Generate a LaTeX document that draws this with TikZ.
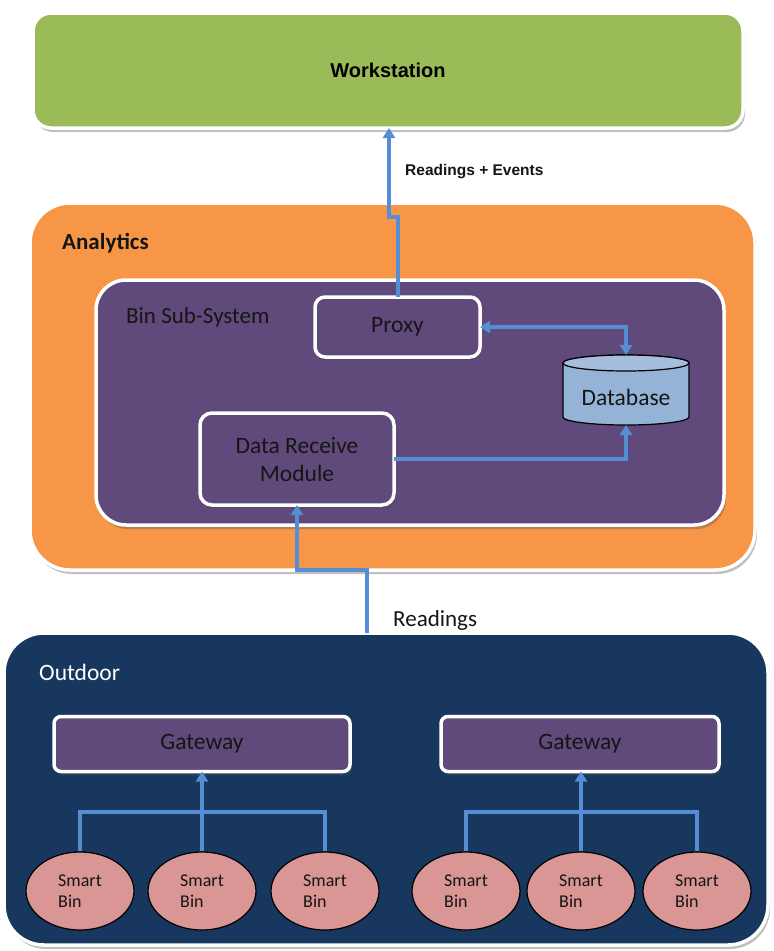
\documentclass[tikz,border=0pt]{standalone}
\usepackage{fontspec}
\setmainfont{Carlito}
\newfontfamily\arialfont{Liberation Sans}
\usetikzlibrary{shadows,arrows.meta,shapes.geometric}
\definecolor{wsgreen}{HTML}{9BBB59}
\definecolor{anorange}{HTML}{F79646}
\definecolor{subpurple}{HTML}{604A7B}
\definecolor{odnavy}{HTML}{17375E}
\definecolor{binpink}{HTML}{D99694}
\definecolor{dbblue}{HTML}{95B3D7}
\definecolor{arrowblue}{HTML}{558ED5}
\definecolor{txtdark}{HTML}{151515}
\tikzset{
  box/.style={draw=white, line width=3.5pt, inner sep=0pt, outer sep=0pt,
    drop shadow={shadow xshift=2pt, shadow yshift=-4pt, opacity=0.35, fill=black!70}},
  inbox/.style={box, fill=subpurple, text=txtdark, font=\fontsize{23.5}{28}\selectfont, align=center},
  binnode/.style={ellipse, draw=black, line width=1.2pt, fill=binpink, minimum width=108pt,
    minimum height=78pt, inner sep=0pt, text=txtdark, align=left, font=\fontsize{18}{21}\selectfont},
  arr/.style={draw=arrowblue, line width=4pt, -{Triangle[length=10pt,width=12pt]}},
  arrboth/.style={draw=arrowblue, line width=4pt, {Triangle[length=10pt,width=12pt]}-{Triangle[length=10pt,width=12pt]}},
  plainline/.style={draw=arrowblue, line width=4pt},
  lbl/.style={inner sep=0pt, anchor=west}
}
\begin{document}
\begin{tikzpicture}[x=1pt,y=-1pt]
\useasboundingbox[fill=white] (0,0) rectangle (774,951);

% containers
\node[box, fill=wsgreen, rounded corners=18pt, minimum width=710pt, minimum height=115pt] (ws) at (388,70.5)
  {\arialfont\bfseries\fontsize{20}{24}\selectfont Workstation};
\node[box, fill=anorange, rounded corners=40pt, minimum width=725pt, minimum height=367pt] (an) at (392.5,386.5) {};
\node[lbl, text=txtdark, font=\bfseries\fontsize{23}{27}\selectfont] (anlbl) at (62,243) {Analytics};
\node[box, fill=subpurple, rounded corners=30pt, minimum width=628pt, minimum height=245pt] (bss) at (410,402.5) {};
\node[lbl, text=txtdark, font=\fontsize{23}{27}\selectfont] (bsslbl) at (126,317) {Bin Sub-System};
\node[box, fill=odnavy, rounded corners=40pt, minimum width=764pt, minimum height=312pt] (od) at (386,789) {};
\node[lbl, text=white, font=\fontsize{23.5}{28}\selectfont] (odlbl) at (39,672) {Outdoor};

% inner nodes
\node[inbox, rounded corners=10pt, minimum width=165pt, minimum height=60pt] (proxy) at (397.5,327) {Proxy};
\node[inbox, rounded corners=12pt, minimum width=194pt, minimum height=92pt] (drm) at (297,459) {Data Receive\\Module};
\node[inbox, rounded corners=7pt, minimum width=296pt, minimum height=55pt] (gw1) at (202,744) {Gateway};
\node[inbox, rounded corners=7pt, minimum width=278pt, minimum height=55pt] (gw2) at (580,744) {Gateway};

% database
\node[minimum width=126pt, minimum height=70pt, inner sep=0pt, outer sep=0pt] (db) at (626,390) {};
\fill[dbblue, draw=black, line width=1.2pt] (563,363) -- (563,417) arc[start angle=180, end angle=0, x radius=63, y radius=8]
  -- (689,363) arc[start angle=0, end angle=-180, x radius=63, y radius=8] -- cycle;
\draw[black, line width=1.2pt, fill=dbblue!85!white] (626,363) ellipse [x radius=63, y radius=8];
\node[text=txtdark, font=\fontsize{23.5}{28}\selectfont] (dblbl) at (626,397) {Database};

% smart bins
\node[binnode] (b1) at (80,891) {Smart\\Bin};
\node[binnode] (b2) at (202,891) {Smart\\Bin};
\node[binnode] (b3) at (325,891) {Smart\\Bin};
\node[binnode] (b4) at (466,891) {Smart\\Bin};
\node[binnode] (b5) at (581,891) {Smart\\Bin};
\node[binnode] (b6) at (697,891) {Smart\\Bin};

% connectors
\coordinate (j1) at (389,217);
\draw[arr] (proxy.north) -- (proxy.north |- j1) -- (j1) -- (j1 |- ws.south);
\node[lbl, font=\arialfont\bfseries\fontsize{15.5}{18}\selectfont, text=txtdark] (relbl) at (405,172) {Readings + Events};
\draw[arrboth] (proxy.east) -| (db.north);
\draw[arr] (drm.east) -| (db.south);
\coordinate (rj) at (367,570);
\draw[arr] (rj |- od.north) -- (rj) -| (drm.south);
\node[lbl, text=txtdark, font=\fontsize{23}{27}\selectfont] (rlbl) at (393,620) {Readings};

\coordinate (bar) at (0,812);
\draw[plainline] (b1.north) -- (b1.north |- bar) -- (b3.north |- bar) -- (b3.north);
\draw[arr] (b2.north) -- (gw1.south);
\draw[plainline] (b4.north) -- (b4.north |- bar) -- (b6.north |- bar) -- (b6.north);
\draw[arr] (b5.north) -- (b5.north |- gw2.south);
\end{tikzpicture}
\end{document}
